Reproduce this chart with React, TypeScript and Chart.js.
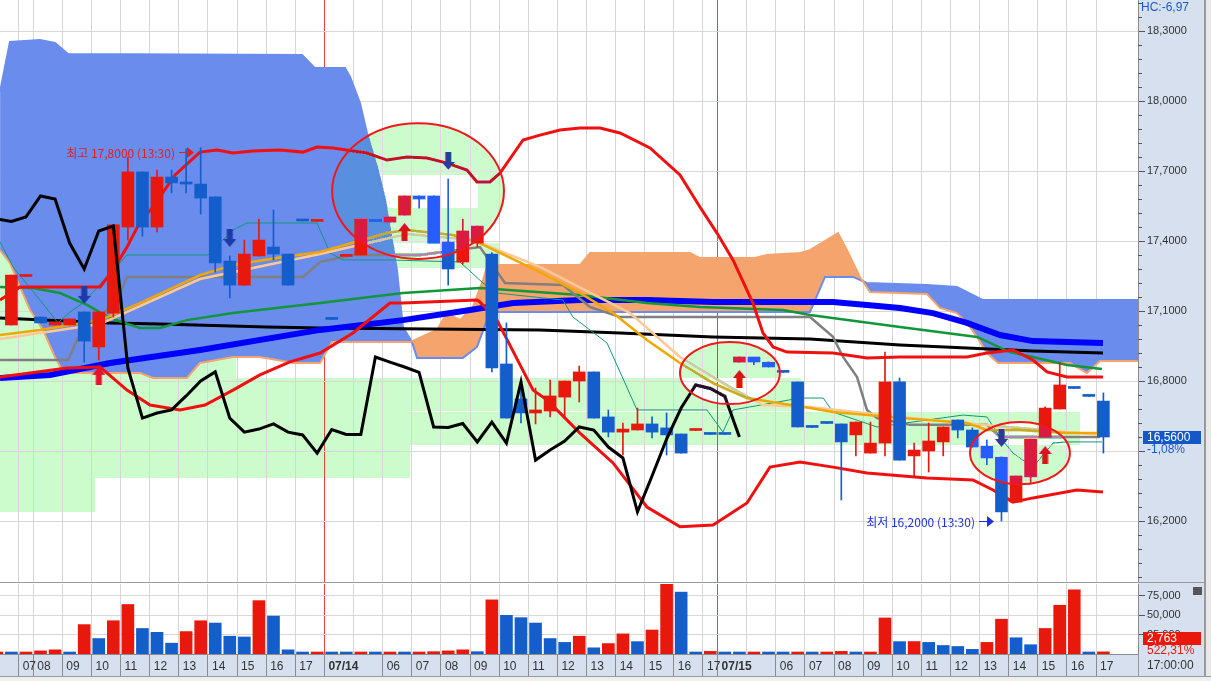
import React, { useEffect, useRef } from 'react';
import { Chart, registerables } from 'chart.js';
Chart.register(...registerables);

const RED = '#e8190c';
const BLUE = '#145ecc';
const AXIS_BG = '#d6e0ee';
const FONT = "'Liberation Sans', Arial, sans-serif";
const KFONT = "'Noto Sans CJK KR', sans-serif";

// ---- candles (30-minute bars, index 0 = first full bar on screen)
const OPEN = [17.04, 17.248, 17.074, 17.04, 17.04, 17.096, 16.946, 17.091, 17.46, 17.696, 17.46, 17.674, 17.653, 17.644, 17.589, 17.314, 17.211, 17.336, 17.374, 17.344, 17.49, 17.484, 17.068, 17.334, 17.34, 17.488, 17.481, 17.511, 17.593, 17.593, 17.396, 17.31, 17.391, 17.344, 16.873, 16.723, 16.663, 16.671, 16.731, 16.8, 16.839, 16.646, 16.581, 16.59, 16.616, 16.599, 16.573, 16.588, 16.575, 16.575, 16.881, 16.903, 16.881, 16.841, 16.796, 16.605, 16.622, 16.616, 16.569, 16.491, 16.534, 16.796, 16.479, 16.5, 16.539, 16.633, 16.59, 16.521, 16.474, 16.281, 16.389, 16.56, 16.68, 16.772, 16.738, 16.714];
const HIGH = [17.254, 17.252, 17.074, 17.053, 17.066, 17.096, 17.096, 17.469, 17.76, 17.696, 17.704, 17.704, 17.795, 17.8, 17.589, 17.336, 17.404, 17.494, 17.533, 17.344, 17.49, 17.488, 17.068, 17.338, 17.494, 17.488, 17.503, 17.593, 17.593, 17.593, 17.666, 17.494, 17.464, 17.35, 17.049, 16.796, 16.77, 16.804, 16.8, 16.864, 16.839, 16.676, 16.62, 16.684, 16.646, 16.663, 16.573, 16.592, 16.575, 16.575, 16.903, 16.903, 16.881, 16.841, 16.796, 16.605, 16.622, 16.616, 16.624, 16.624, 16.924, 16.813, 16.534, 16.62, 16.603, 16.633, 16.599, 16.547, 16.474, 16.393, 16.551, 16.689, 16.881, 16.772, 16.738, 16.749];
const LOW = [17.04, 17.248, 17.049, 17.04, 17.04, 16.881, 16.89, 17.074, 17.404, 17.421, 17.439, 17.606, 17.606, 17.516, 17.267, 17.156, 17.211, 17.336, 17.319, 17.211, 17.486, 17.484, 17.064, 17.334, 17.34, 17.484, 17.481, 17.511, 17.541, 17.391, 17.211, 17.301, 17.374, 16.839, 16.641, 16.62, 16.616, 16.646, 16.646, 16.71, 16.641, 16.56, 16.483, 16.59, 16.556, 16.483, 16.491, 16.588, 16.571, 16.571, 16.881, 16.869, 16.86, 16.837, 16.603, 16.601, 16.618, 16.29, 16.479, 16.491, 16.479, 16.461, 16.389, 16.41, 16.479, 16.556, 16.517, 16.44, 16.2, 16.281, 16.363, 16.56, 16.68, 16.768, 16.734, 16.491];
const CLOSE = [17.254, 17.252, 17.049, 17.053, 17.066, 16.971, 17.096, 17.469, 17.696, 17.46, 17.674, 17.649, 17.644, 17.584, 17.306, 17.211, 17.344, 17.404, 17.344, 17.211, 17.486, 17.488, 17.064, 17.338, 17.494, 17.484, 17.503, 17.593, 17.58, 17.391, 17.28, 17.443, 17.464, 16.856, 16.641, 16.663, 16.676, 16.736, 16.8, 16.839, 16.641, 16.581, 16.594, 16.616, 16.581, 16.569, 16.491, 16.592, 16.571, 16.571, 16.903, 16.881, 16.86, 16.837, 16.603, 16.601, 16.618, 16.539, 16.624, 16.534, 16.796, 16.461, 16.504, 16.543, 16.603, 16.59, 16.517, 16.47, 16.239, 16.393, 16.551, 16.684, 16.783, 16.768, 16.734, 16.56];
// volume starts one bar before the first candle (index -1)
const VOLUME = [1600, 1500, 1700, 4000, 5400, 1700, 38000, 20000, 43000, 64000, 33000, 28000, 14000, 29000, 43000, 40000, 23000, 22000, 69000, 49000, 5400, 1500, 1600, 1400, 1300, 1500, 1400, 1500, 1400, 1600, 3000, 4000, 5400, 3000, 70000, 50000, 47000, 40000, 20000, 15000, 23000, 8000, 13500, 26000, 16000, 31000, 90000, 80000, 1300, 3400, 1000, 990, 1010, 1000, 990, 1010, 1000, 1010, 3400, 1000, 2000, 46600, 16000, 16100, 15000, 11000, 9700, 6000, 15000, 45000, 21000, 12000, 33000, 63000, 83000, 1300, 2763];
const VOL_START = -1;
const VOL_TICKS = [25000, 50000, 75000];
const CHIKOU_SHIFT = 25;

// ---- time axis
const HOUR_TICKS = [0.5, 1.5, 3.5, 5.5, 7.5, 9.5, 11.5, 13.5, 15.5, 17.5, 19.5, 21.5, 23.5, 25.5, 27.5, 29.5, 31.5, 33.5, 35.5, 37.5, 39.5, 41.5, 43.5, 45.5, 47.5, 48.5, 50.5, 52.5, 54.5, 56.5, 58.5, 60.5, 62.5, 64.5, 66.5, 68.5, 70.5, 72.5, 74.5];
const HOUR_LABELS = ['07', '08', '09', '10', '11', '12', '13', '14', '15', '16', '17', '07/14', '', '06', '07', '08', '09', '10', '11', '12', '13', '14', '15', '16', '17', '07/15', '', '06', '07', '08', '09', '10', '11', '12', '13', '14', '15', '16', '17'];
const DAY_BREAKS = [21.5, 48.5];
const NO_DIVIDER = [23.5, 50.5];
const PRICE_TICKS = [16.2, 16.5, 16.8, 17.1, 17.4, 17.7, 18.0, 18.3];
const X_MIN = -0.783;
const X_MAX = 77.377;
const Y_MIN = 15.9386;
const Y_MAX = 18.4329;
const VOL_MAX = 90500;

// ---- indicator lines: [bar index, price]
const BB_UPPER = [[-0.78, 17.147], [0.59, 17.203], [6.09, 17.203], [6.98, 17.276], [7.94, 17.374], [8.83, 17.481], [9.72, 17.546], [11.24, 17.683], [12.95, 17.781], [14.12, 17.79], [15.22, 17.777], [16.59, 17.786], [18.45, 17.79], [20.03, 17.781], [20.99, 17.803], [22.09, 17.799], [24.42, 17.777], [25.8, 17.747], [27.17, 17.76], [28.54, 17.756], [29.92, 17.734], [31.29, 17.704], [31.98, 17.653], [32.87, 17.653], [33.56, 17.691], [35.14, 17.833], [36.3, 17.854], [37.68, 17.876], [39.05, 17.884], [40.43, 17.884], [41.8, 17.863], [43.86, 17.799], [45.92, 17.683], [47.29, 17.546], [48.46, 17.434], [49.56, 17.319], [50.93, 17.134], [51.62, 17.006], [52.31, 16.946], [53.27, 16.924], [56.43, 16.92], [58.76, 16.899], [61.03, 16.903], [65.63, 16.903], [67.0, 16.92], [68.79, 16.933], [70.16, 16.89], [71.13, 16.839], [72.5, 16.817], [74.97, 16.817]];
const BB_LOWER = [[-0.78, 16.817], [3.82, 16.856], [6.09, 16.86], [7.94, 16.761], [9.52, 16.697], [11.58, 16.676], [13.3, 16.697], [15.22, 16.761], [17.07, 16.826], [19.13, 16.882], [21.2, 16.92], [23.46, 17.006], [26.0, 17.134], [26.89, 17.134], [31.98, 17.147], [32.18, 17.139], [33.35, 17.061], [35.83, 16.761], [36.79, 16.719], [39.05, 16.577], [41.32, 16.449], [43.65, 16.26], [45.92, 16.175], [48.19, 16.183], [50.52, 16.277], [52.1, 16.431], [54.16, 16.453], [56.43, 16.431], [58.76, 16.406], [62.88, 16.384], [66.04, 16.376], [67.42, 16.333], [68.79, 16.281], [70.16, 16.299], [73.18, 16.333], [74.97, 16.324]];
const BLACK_MA = [[-0.78, 17.07], [6.77, 17.049], [10.21, 17.044], [17.55, 17.031], [21.2, 17.027], [36.3, 17.019], [41.8, 17.006], [48.19, 16.989], [54.85, 16.98], [61.03, 16.954], [65.63, 16.941], [70.16, 16.929], [74.97, 16.92]];
const BLUE_MA = [[-0.78, 16.813], [2.65, 16.826], [6.77, 16.877], [12.95, 16.933], [21.2, 17.019], [26.89, 17.061], [31.5, 17.104], [34.45, 17.134], [39.05, 17.147], [43.65, 17.147], [48.19, 17.139], [56.43, 17.139], [58.76, 17.126], [61.03, 17.113], [63.29, 17.091], [65.63, 17.049], [67.9, 16.997], [70.16, 16.971], [74.97, 16.963]];
const GREEN_MA = [[-0.78, 17.203], [1.48, 17.199], [3.34, 17.177], [5.19, 17.126], [6.77, 17.07], [8.83, 17.027], [10.21, 17.027], [12.06, 17.061], [15.22, 17.091], [21.2, 17.134], [26.89, 17.177], [32.18, 17.199], [39.05, 17.169], [43.65, 17.134], [47.29, 17.117], [53.0, 17.104], [54.85, 17.083], [61.03, 17.031], [66.32, 16.989], [68.58, 16.924], [70.16, 16.903], [72.5, 16.869], [74.9, 16.851]];
const KIJUN = [[-0.78, 16.89], [3.89, 16.89], [4.57, 16.984], [7.25, 17.147], [7.94, 17.246], [20.03, 17.246], [21.2, 17.31], [23.46, 17.34], [28.07, 17.34], [32.18, 17.374], [33.9, 17.22], [37.88, 17.211], [39.74, 17.117], [41.8, 17.074], [54.85, 17.074], [56.43, 16.989], [57.12, 16.903], [58.08, 16.817], [58.76, 16.676], [59.45, 16.641], [61.72, 16.612], [67.0, 16.612], [67.9, 16.56], [74.76, 16.56]];
const TENKAN = [[-0.78, 17.396], [0.11, 17.289], [1.96, 17.147], [3.2, 17.049], [4.02, 17.096], [4.92, 17.134], [7.94, 17.34], [13.5, 17.34], [15.22, 17.447], [16.18, 17.477], [20.99, 17.477], [21.2, 17.447], [21.88, 17.349], [22.77, 17.319], [26.0, 17.319], [30.81, 17.31], [32.39, 17.22], [33.35, 17.177], [37.88, 17.147], [38.57, 17.074], [40.91, 16.963], [42.97, 16.676], [47.77, 16.676], [48.87, 16.581], [49.56, 16.676], [54.16, 16.727], [55.76, 16.727], [56.43, 16.667], [59.45, 16.603], [65.35, 16.654], [67.0, 16.646], [67.9, 16.56], [68.79, 16.491], [70.16, 16.431], [71.54, 16.534], [72.5, 16.539], [74.9, 16.539]];
const ORANGE_MA = [[-0.78, 16.997], [1.96, 17.019], [6.09, 17.061], [8.83, 17.134], [12.95, 17.254], [15.22, 17.297], [18.65, 17.331], [21.2, 17.353], [25.8, 17.434], [27.17, 17.447], [30.33, 17.426], [31.98, 17.396], [33.56, 17.349], [36.3, 17.267], [39.05, 17.177], [41.32, 17.091], [43.65, 16.976], [45.92, 16.877], [48.19, 16.791], [50.52, 16.727], [54.85, 16.684], [56.43, 16.667], [61.03, 16.642], [65.63, 16.62], [67.0, 16.59], [69.27, 16.59], [72.5, 16.577], [74.9, 16.577]];
const PEACH_MA = [[-0.78, 16.98], [6.09, 17.044], [12.95, 17.237], [21.2, 17.344], [27.17, 17.43], [31.7, 17.404], [36.3, 17.289], [42.49, 17.091], [45.92, 16.903], [49.35, 16.774], [51.62, 16.697], [54.85, 16.689], [61.03, 16.646], [68.38, 16.603], [74.9, 16.569]];
const SPAN_A = [[-0.78, 18.039], [-0.1, 18.253], [1.96, 18.261], [2.99, 18.249], [3.89, 18.201], [19.96, 18.197], [20.85, 18.141], [22.91, 18.141], [23.26, 18.103], [23.94, 17.991], [24.42, 17.863], [25.11, 17.717], [25.66, 17.576], [26.48, 17.276], [26.89, 17.031], [27.51, 16.967], [27.86, 16.899], [31.01, 16.899], [31.98, 16.946], [32.87, 17.096], [54.85, 17.096], [55.88, 17.246], [57.8, 17.246], [58.76, 17.22], [62.88, 17.211], [64.94, 17.203], [66.73, 17.147], [76.9, 17.147], [77.4, 17.147]];
const SPAN_B = [[-0.78, 17.361], [-0.1, 17.306], [0.59, 17.203], [1.28, 17.104], [2.17, 17.019], [2.99, 16.903], [3.48, 16.847], [3.82, 16.834], [8.83, 16.834], [9.72, 16.813], [12.06, 16.813], [12.95, 16.877], [15.22, 16.903], [17.07, 16.903], [18.24, 16.89], [19.34, 16.877], [21.2, 16.877], [22.02, 16.967], [27.38, 16.967], [29.23, 17.019], [29.92, 17.091], [30.81, 17.061], [31.7, 17.117], [32.39, 17.233], [32.66, 17.289], [33.56, 17.297], [39.05, 17.297], [39.74, 17.349], [46.61, 17.349], [47.29, 17.327], [51.07, 17.327], [51.89, 17.34], [54.16, 17.349], [54.85, 17.361], [56.77, 17.434], [57.39, 17.361], [58.28, 17.246], [58.97, 17.181], [62.88, 17.173], [63.77, 17.113], [64.94, 17.091], [65.63, 17.049], [66.32, 16.989], [67.0, 16.92], [67.76, 16.877], [72.7, 16.877], [73.87, 16.834], [74.76, 16.886], [77.4, 16.886]];

// ---- boxes [from bar, to bar, top price, bottom price]
const GREEN_BOXES = [[-0.78, 15.4, 17.36, 16.813], [-0.78, 27.4, 16.813, 16.384], [-0.78, 5.74, 16.384, 16.239], [27.4, 54.2, 16.813, 16.672], [27.4, 73.4, 16.667, 16.526], [25.2, 32.05, 17.683, 17.541], [26.2, 33.56, 17.391, 17.284]];
// ---- signals
const ARROW_UP = [[6, 16.822], [27, 17.439], [50, 16.809], [71, 16.483]];
const ARROW_DOWN = [[5, 17.169], [15, 17.413], [30, 17.743], [68, 16.556]];
// ---- ellipses [center bar, radius bars, center price, radius price]
const ELLIPSES = [[27.93, 5.9, 17.614, 0.291], [49.35, 3.43, 16.834, 0.133], [69.27, 3.43, 16.491, 0.133]];
const ANNOTATIONS = [
  { bar: 13, price: 17.78, text: '최고 17,8000 (13:30)', color: '#e41e1e' },
  { bar: 68, price: 16.2, text: '최저 16,2000 (13:30)', color: '#1e32dc' },
];
const CHANGE_TEXT = '-1,08%';
const HC_TEXT = 'HC:-6,97';
const VOL_CHANGE_TEXT = '522,31%';
const TIME_TEXT = '17:00:00';

const LAST = CLOSE[CLOSE.length - 1];
const LAST_VOL = VOLUME[VOLUME.length - 1];
const fmt4 = (v: number) => v.toFixed(4).replace('.', ',');
const pts = (arr: number[][]) => arr.map(([x, y]) => ({ x, y }));

function makeArrow(up: boolean, color: string) {
  const c = document.createElement('canvas');
  c.width = 13; c.height = 18;
  const g = c.getContext('2d')!;
  g.fillStyle = color;
  g.beginPath();
  if (up) {
    g.moveTo(6.5, 0); g.lineTo(13, 8); g.lineTo(9.5, 8); g.lineTo(9.5, 18); g.lineTo(3.5, 18); g.lineTo(3.5, 8); g.lineTo(0, 8);
  } else {
    g.moveTo(6.5, 18); g.lineTo(13, 10); g.lineTo(9.5, 10); g.lineTo(9.5, 0); g.lineTo(3.5, 0); g.lineTo(3.5, 10); g.lineTo(0, 10);
  }
  g.closePath(); g.fill();
  return c;
}

function xorEllipse(ctx: CanvasRenderingContext2D, cx: number, cy: number, rx: number, ry: number, W: number, H: number) {
  const x0 = Math.max(0, Math.floor(cx - rx - 1));
  const y0 = Math.max(0, Math.floor(cy - ry - 1));
  const x1 = Math.min(W, Math.ceil(cx + rx + 1));
  const y1 = Math.min(H, Math.ceil(cy + ry + 1));
  const w = x1 - x0, h = y1 - y0;
  if (w <= 0 || h <= 0) return;
  const img = ctx.getImageData(x0, y0, w, h);
  const d = img.data;
  for (let j = 0; j < h; j++) {
    for (let i = 0; i < w; i++) {
      const dx = (x0 + i + 0.5 - cx) / rx;
      const dy = (y0 + j + 0.5 - cy) / ry;
      if (dx * dx + dy * dy <= 1) {
        const k = (j * w + i) * 4;
        d[k] ^= 51; d[k + 1] ^= 3; d[k + 2] ^= 51;
      }
    }
  }
  ctx.putImageData(img, x0, y0);
}

const xTicks = (s: any) => { s.ticks = HOUR_TICKS.map((value) => ({ value })); };
const isIn = (arr: number[], v: any) => arr.some((a) => Math.abs(a - v) < 1e-6);

const panelA = {
  id: 'panelA',
  beforeDraw(chart: any) {
    const { ctx, chartArea: a, width, height, scales } = chart;
    const x = scales.x, y = scales.y;
    ctx.save();
    ctx.fillStyle = '#ffffff'; ctx.fillRect(0, 0, width, height);
    ctx.fillStyle = AXIS_BG; ctx.fillRect(a.right, 0, width - a.right, height);
    ctx.beginPath(); ctx.rect(a.left, a.top, a.right - a.left, a.bottom - a.top); ctx.clip();
    ctx.fillStyle = '#ccfccc';
    for (const [b1, b2, p1, p2] of GREEN_BOXES) {
      const l = Math.round(x.getPixelForValue(b1)), r = Math.round(x.getPixelForValue(b2));
      const t = Math.round(y.getPixelForValue(p1)), b = Math.round(y.getPixelForValue(p2));
      ctx.fillRect(l, t, r - l, b - t);
    }
    ctx.restore();
  },
  afterDraw(chart: any) {
    const { ctx, chartArea: a, width, height, scales } = chart;
    const x = scales.x, y = scales.y;
    ctx.save();
    ctx.strokeStyle = '#555'; ctx.lineWidth = 1;
    for (let k = Math.ceil(y.min / 0.06); k <= Math.floor(y.max / 0.06); k++) {
      const v = k * 0.06; const r = v / 0.3;
      if (Math.abs(r - Math.round(r)) < 1e-6) continue;
      const py = Math.round(y.getPixelForValue(v)) + 0.5;
      ctx.beginPath(); ctx.moveTo(a.right, py); ctx.lineTo(a.right + 4, py); ctx.stroke();
    }
    ctx.fillStyle = '#9a9a9a'; ctx.fillRect(width - 7, 0, 2, height);
    ctx.fillStyle = '#e9e9e9'; ctx.fillRect(width - 5, 0, 5, height);
    const py = Math.round(y.getPixelForValue(LAST));
    ctx.fillStyle = '#1458c8'; ctx.fillRect(a.right + 5, py - 6, 58, 13);
    ctx.font = `12px ${FONT}`; ctx.textBaseline = 'middle'; ctx.textAlign = 'left';
    ctx.fillStyle = '#ffffff'; ctx.fillText(fmt4(LAST), a.right + 9, py + 1);
    ctx.fillStyle = '#1a5ad0'; ctx.fillText(CHANGE_TEXT, a.right + 9, py + 13);
    ctx.fillText(HC_TEXT, a.right + 3, 8);
    ctx.beginPath(); ctx.rect(a.left, a.top, a.right - a.left, a.bottom - a.top); ctx.clip();
    for (const an of ANNOTATIONS) {
      const px = x.getPixelForValue(an.bar), ay = Math.round(y.getPixelForValue(an.price));
      const tip = Math.round(px - 7);
      ctx.strokeStyle = an.color; ctx.fillStyle = an.color; ctx.lineWidth = 1;
      ctx.beginPath(); ctx.moveTo(tip - 15, ay + 0.5); ctx.lineTo(tip - 5, ay + 0.5); ctx.stroke();
      ctx.beginPath(); ctx.moveTo(tip, ay + 0.5); ctx.lineTo(tip - 7, ay - 5); ctx.lineTo(tip - 7, ay + 6); ctx.closePath(); ctx.fill();
      ctx.font = `12px ${KFONT}`; ctx.textAlign = 'right'; ctx.textBaseline = 'middle';
      ctx.fillText(an.text, tip - 19, ay + 1);
    }
    for (const [cb, rb, cp, rp] of ELLIPSES) {
      const cx = x.getPixelForValue(cb), cy = y.getPixelForValue(cp);
      const rx = Math.abs(x.getPixelForValue(cb + rb) - cx), ry = Math.abs(y.getPixelForValue(cp + rp) - cy);
      xorEllipse(ctx, cx, cy, rx, ry, width, height);
      ctx.strokeStyle = '#f01818'; ctx.lineWidth = 2;
      ctx.beginPath(); ctx.ellipse(cx, cy, rx, ry, 0, 0, Math.PI * 2); ctx.stroke();
    }
    ctx.restore();
  },
};

const panelB = {
  id: 'panelB',
  beforeDraw(chart: any) {
    const { ctx, chartArea: a, width, height } = chart;
    ctx.save();
    ctx.fillStyle = '#ffffff'; ctx.fillRect(0, 0, width, height);
    ctx.fillStyle = AXIS_BG; ctx.fillRect(a.right, 0, width - a.right, a.bottom);
    ctx.fillRect(0, a.bottom, width, 22);
    ctx.fillStyle = '#9a9a9a'; ctx.fillRect(0, a.bottom + 22, width, 1);
    ctx.fillStyle = '#efefef'; ctx.fillRect(0, a.bottom + 23, width, height);
    ctx.fillStyle = '#9a9a9a'; ctx.fillRect(0, 0, width, 1);
    ctx.restore();
  },
  afterDraw(chart: any) {
    const { ctx, chartArea: a, width } = chart;
    ctx.save();
    ctx.fillStyle = '#9a9a9a';
    ctx.fillRect(a.right, a.bottom, 1, 22);
    ctx.fillRect(width - 7, 0, 2, a.bottom + 22);
    ctx.fillStyle = '#e9e9e9'; ctx.fillRect(width - 5, 0, 5, a.bottom + 22);
    ctx.fillStyle = '#e8190c'; ctx.fillRect(a.right + 5, 50, 58, 13);
    ctx.font = `12px ${FONT}`; ctx.textBaseline = 'middle'; ctx.textAlign = 'left';
    ctx.fillStyle = '#ffffff'; ctx.fillText(LAST_VOL.toLocaleString('en-US'), a.right + 9, 57);
    ctx.fillStyle = '#e8190c'; ctx.fillText(VOL_CHANGE_TEXT, a.right + 9, 69);
    ctx.fillStyle = '#333'; ctx.fillText(TIME_TEXT, a.right + 9, a.bottom + 12);
    ctx.fillStyle = '#555'; ctx.fillRect(width - 18, 5, 9, 8);
    ctx.restore();
  },
};

function configA(up: HTMLCanvasElement, down: HTMLCanvasElement): any {
  const cColor = OPEN.map((o, i) => (CLOSE[i] >= o ? RED : BLUE));
  const line = (data: number[][], color: string, width: number, order: number, extra: any = {}) => ({
    type: 'line', data: pts(data), borderColor: color, borderWidth: width, pointRadius: 0, tension: 0, fill: false, order, ...extra,
  });
  return {
    type: 'bar',
    data: {
      datasets: [
        line(SPAN_B, '#f4a46c', 2, 20),
        line(SPAN_A, '#6a8cec', 2, 21, { fill: { target: 0, above: '#6a8cec', below: '#f4a46c' } }),
        line(BLACK_MA, '#000000', 3, 12),
        line(BLUE_MA, '#0000ff', 6, 11),
        line(GREEN_MA, '#12963a', 2.5, 10),
        line(KIJUN, '#808080', 2.5, 9),
        line(TENKAN, '#14967a', 1, 8),
        line(PEACH_MA, '#ffc896', 2.5, 7),
        line(ORANGE_MA, '#f0a800', 2.5, 6),
        line(BB_UPPER, '#f01010', 3, 5),
        line(BB_LOWER, '#f01010', 3, 5),
        {
          type: 'bar', data: OPEN.map((_, i) => ({ x: i, y: [LOW[i], HIGH[i]] })), backgroundColor: cColor,
          barThickness: 1, grouped: false, order: 4, borderWidth: 0,
        },
        {
          type: 'bar', data: OPEN.map((o, i) => ({ x: i, y: [o, CLOSE[i]] })), backgroundColor: cColor,
          barThickness: 12, minBarLength: 2, grouped: false, order: 3, borderWidth: 0,
        },
        { type: 'line', data: pts(ARROW_UP), showLine: false, pointStyle: up, pointRadius: 9, order: 2 },
        { type: 'line', data: pts(ARROW_DOWN), showLine: false, pointStyle: down, pointRadius: 9, order: 2 },
        line(CLOSE.map((c, i) => [i - CHIKOU_SHIFT, c]).filter((p) => p[0] >= -2), '#000000', 3, 1),
      ],
    },
    options: {
      responsive: false, animation: false, events: [],
      layout: { padding: 0, autoPadding: false },
      plugins: { legend: { display: false }, tooltip: { enabled: false } },
      scales: {
        x: {
          type: 'linear', min: X_MIN, max: X_MAX, offset: false, afterBuildTicks: xTicks,
          grid: { offset: false, drawTicks: false, color: (c: any) => (isIn(DAY_BREAKS, c.tick?.value) ? '#f04040' : '#d6d6d6') },
          ticks: { display: false }, border: { display: false },
          afterFit: (s: any) => { s.height = 0; s.paddingLeft = 0; s.paddingRight = 0; },
        },
        y: {
          type: 'linear', position: 'right', min: Y_MIN, max: Y_MAX,
          afterBuildTicks: (s: any) => { s.ticks = PRICE_TICKS.map((value) => ({ value })); },
          ticks: {
            autoSkip: false, padding: 2, color: '#333', font: { family: FONT, size: 11 },
            callback: (v: number) => (Math.abs(v - LAST) < 0.1 ? '' : fmt4(v)),
          },
          grid: { color: '#d8d8d8', tickColor: '#555', tickLength: 7 },
          border: { display: true, color: '#8c8c8c' },
          afterFit: (s: any) => { s.width = 73; s.paddingTop = 0; s.paddingBottom = 0; },
        },
      },
    },
    plugins: [panelA],
  };
}

function configB(): any {
  const vColor = VOLUME.map((v, i) => (i === 0 || v >= VOLUME[i - 1] ? RED : BLUE));
  return {
    type: 'bar',
    data: {
      datasets: [{
        data: VOLUME.map((v, i) => ({ x: i + VOL_START, y: v })), backgroundColor: vColor,
        barThickness: 12, minBarLength: 2, grouped: false, borderWidth: 0,
      }],
    },
    options: {
      responsive: false, animation: false, events: [],
      layout: { padding: { top: 2, left: 0, right: 0, bottom: 0 }, autoPadding: false },
      plugins: { legend: { display: false }, tooltip: { enabled: false } },
      scales: {
        x: {
          type: 'linear', min: X_MIN, max: X_MAX, offset: false, afterBuildTicks: xTicks,
          grid: {
            offset: false, tickLength: 22,
            color: (c: any) => (isIn(DAY_BREAKS, c.tick?.value) ? '#f04040' : '#d6d6d6'),
            tickColor: (c: any) => (isIn(NO_DIVIDER, c.tick?.value) ? 'rgba(0,0,0,0)' : '#8c8c8c'),
          },
          border: { display: true, color: '#8c8c8c' },
          ticks: {
            autoSkip: false, maxRotation: 0, minRotation: 0, align: 'start', labelOffset: 4, padding: -17, color: '#333',
            font: (c: any) => ({ family: FONT, size: 12, weight: isIn(DAY_BREAKS, c.tick?.value) ? 'bold' : 'normal' }),
            callback: (_v: number, i: number) => HOUR_LABELS[i],
          },
          afterFit: (s: any) => { s.height = 27; s.paddingLeft = 0; s.paddingRight = 0; },
        },
        y: {
          type: 'linear', position: 'right', min: 0, max: VOL_MAX,
          afterBuildTicks: (s: any) => { s.ticks = VOL_TICKS.map((value) => ({ value })); },
          ticks: {
            autoSkip: false, padding: 2, color: '#333', font: { family: FONT, size: 11 },
            callback: (v: number) => v.toLocaleString('en-US'),
          },
          grid: { color: '#d8d8d8', tickColor: '#555', tickLength: 7 },
          border: { display: true, color: '#8c8c8c' },
          afterFit: (s: any) => { s.width = 73; s.paddingTop = 0; s.paddingBottom = 0; },
        },
      },
    },
    plugins: [panelB],
  };
}

export default function App() {
  const refA = useRef<HTMLCanvasElement>(null);
  const refB = useRef<HTMLCanvasElement>(null);
  useEffect(() => {
    Chart.defaults.font.family = FONT;
    const up = makeArrow(true, '#e8102a');
    const down = makeArrow(false, '#1c3aa8');
    const a = new Chart(refA.current!, configA(up, down));
    const b = new Chart(refB.current!, configB());
    return () => { a.destroy(); b.destroy(); };
  }, []);
  return (
    <div style={{ position: 'absolute', left: 0, top: 0, width: 1211, height: 681, background: '#fff', overflow: 'hidden' }}>
      <canvas ref={refA} width={1211} height={582} style={{ position: 'absolute', left: 0, top: 0 }} />
      <canvas ref={refB} width={1211} height={99} style={{ position: 'absolute', left: 0, top: 582 }} />
    </div>
  );
}
